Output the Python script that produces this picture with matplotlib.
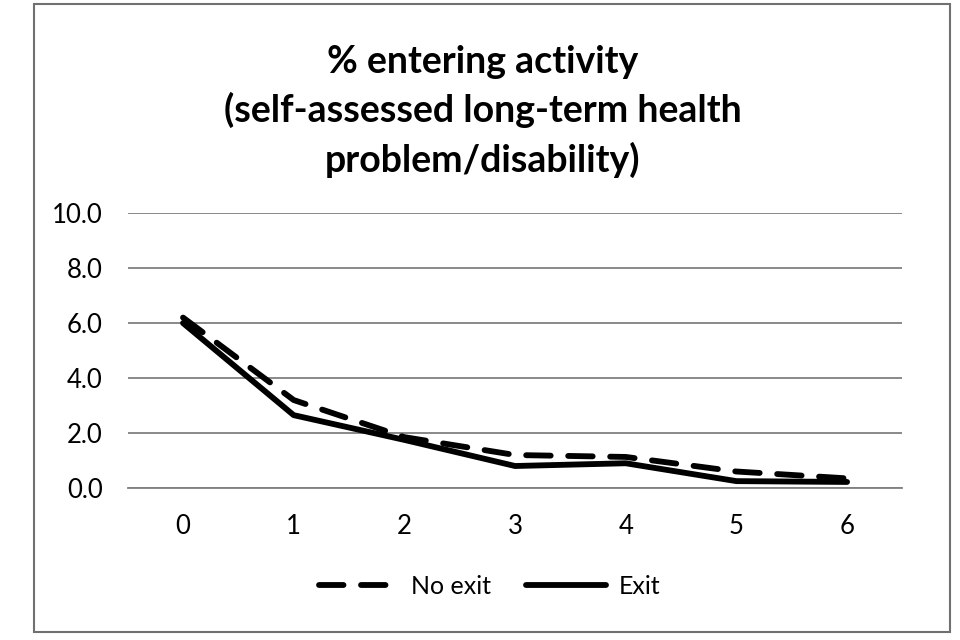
import matplotlib
matplotlib.use('Agg')
import matplotlib.pyplot as plt
from matplotlib.patches import Rectangle

# values
years = ['0', '1', '2', '3', '4', '5', '6']
no_exit = [6.2, 3.2, 1.85, 1.2, 1.13, 0.6, 0.35]
exit_ = [6.0, 2.65, 1.75, 0.8, 0.9, 0.25, 0.22]
title = '% entering activity\n(self-assessed long-term health\nproblem/disability)'

plt.rcParams['font.family'] = ['Lato', 'DejaVu Sans']

fig = plt.figure(figsize=(9.6, 6.4), dpi=100)
ax = fig.add_axes([0.133, 0.2375, 0.807, 0.4295])

x = range(len(years))
ax.plot(x, no_exit, color='black', lw=4.2, linestyle=(0, (4.2, 3.0)),
        dash_capstyle='round', solid_capstyle='round', label='No exit')
ax.plot(x, exit_, color='black', lw=4.2, solid_capstyle='round', label='Exit')

ax.set_xlim(-0.5, 6.5)
ax.set_ylim(0, 10)
ax.set_yticks([0, 2, 4, 6, 8, 10])
ax.set_yticklabels(['%.1f' % v for v in [0, 2, 4, 6, 8, 10]])
ax.set_xticks(list(x))
ax.set_xticklabels(years)
ax.yaxis.grid(True, color='#808080', lw=1.3)
ax.set_axisbelow(True)
for s in ['top', 'right', 'left']:
    ax.spines[s].set_visible(False)
ax.spines['bottom'].set_color('#808080')
ax.spines['bottom'].set_linewidth(1.3)
ax.tick_params(axis='both', length=0, labelsize=18.5, colors='black')
ax.tick_params(axis='y', pad=18)
ax.tick_params(axis='x', pad=19)

fig.text(0.503, 0.93, title, ha='center', va='top', fontsize=27,
         fontweight='bold', linespacing=1.44)

leg = fig.legend(loc='center', bbox_to_anchor=(0.51, 0.084), ncol=2,
                 frameon=False, fontsize=18, handlelength=3.2,
                 columnspacing=1.4, handletextpad=0.5)

fig.patches.append(Rectangle((0.035, 0.013), 0.955, 0.98, transform=fig.transFigure,
                             fill=False, edgecolor='#707070', lw=1.5))

fig.savefig('out.png', dpi=100)
